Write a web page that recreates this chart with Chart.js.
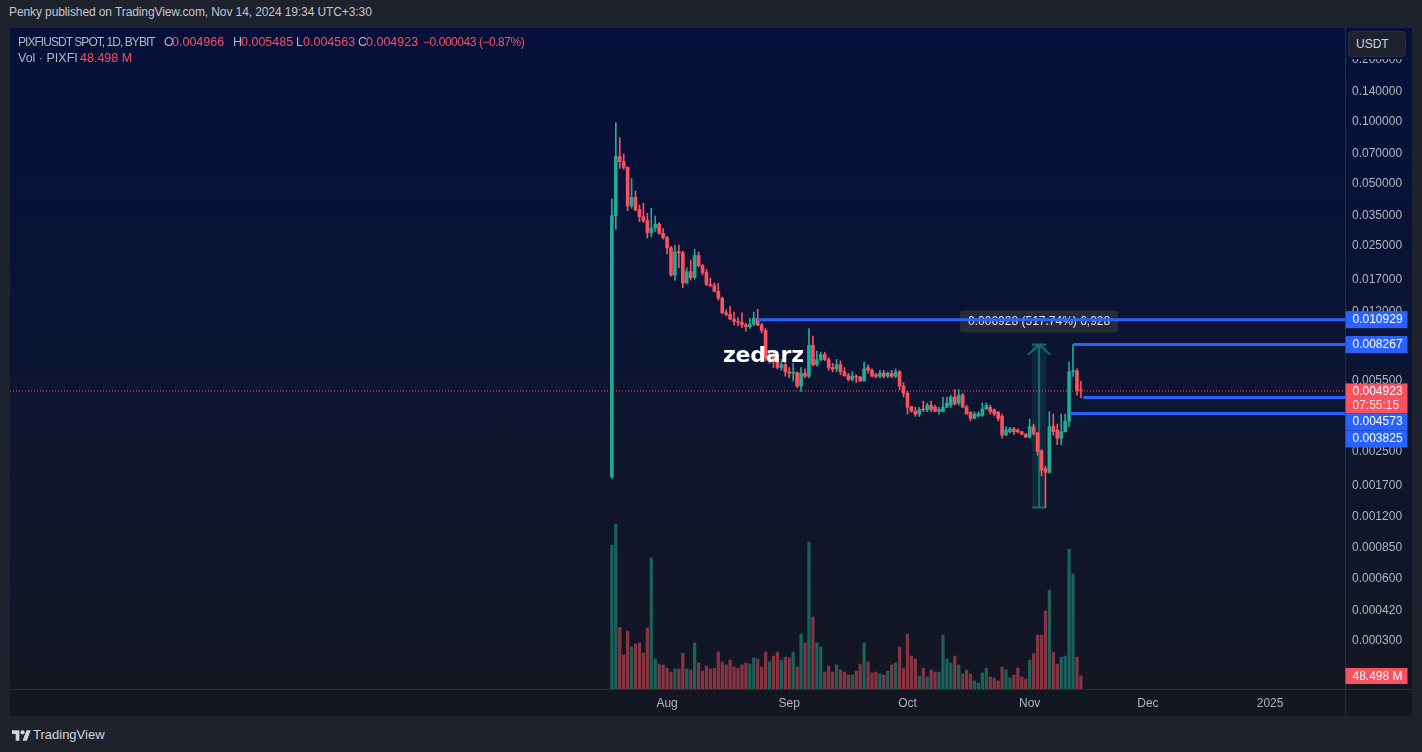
<!DOCTYPE html>
<html>
<head>
<meta charset="utf-8">
<title>PIXFIUSDT 1D</title>
<script src="https://cdn.jsdelivr.net/npm/chart.js@4.4.0/dist/chart.umd.min.js"></script>
<style>
    body {
        margin: 0;
        width: 1422px;
        height: 752px;
        background: #1e222d;
        font-family: "Liberation Sans", Arial, sans-serif;
        overflow: hidden;
        position: relative;
    }
    .header {
        position: absolute; left: 9px; top: 5px;
        color: #c3c6ce; font-size: 12px; letter-spacing: -0.1px;
    }
    .pane {
        position: absolute; left: 10px; top: 28px; width: 1402px; height: 661px;
        background: linear-gradient(to bottom, #06103a 0%, #0b1434 45%, #131722 100%);
    }
    .timebar {
        position: absolute; left: 10px; top: 689px; width: 1402px; height: 27px;
        background: #131722;
    }
    #wrap { position: absolute; left: 10px; top: 28px; width: 1402px; height: 688px; }
    .lg { position: absolute; font-size: 12.5px; white-space: nowrap; }
    .g { color: #b2b5be; }
    .r { color: #f7525f; }
    .axtop {
        position: absolute; left: 1346px; top: 28px; width: 66px; height: 30.5px;
        background: #06103a;
    }
    .usdt {
        position: absolute; left: 1348px; top: 31px; width: 58px; height: 26px;
        background: #1e222d; border: 1px solid #2a2e39; border-radius: 4px; box-sizing: border-box;
        color: #d1d4dc; font-size: 12px; line-height: 24px; padding-left: 7px;
    }
    .mark {
        position: absolute; left: 723px; top: 342px;
        font-family: "DejaVu Sans", sans-serif; font-weight: bold; font-size: 22px;
        color: #ffffff; letter-spacing: -0.2px;
    }
    .tv { position: absolute; left: 12px; top: 727px; color: #d1d4dc; font-size: 13px; }
    .tv svg { position: absolute; left: 0; top: 2px; }
    .tv span { position: absolute; left: 21px; top: 0; white-space: nowrap; }
</style>
</head>
<body>
<div class="header">Penky published on TradingView.com, Nov 14, 2024 19:34 UTC+3:30</div>
<div class="pane"></div>
<div class="timebar"></div>
<div id="wrap"><canvas id="chart"></canvas></div>

<div class="lg g" style="left:18px;top:35px;font-size:12px;letter-spacing:-0.95px;">PIXFIUSDT SPOT, 1D, BYBIT</div>
<div class="lg g" style="left:164px;top:35px;">O</div><div class="lg r" style="left:172px;top:35px;">0.004966</div>
<div class="lg g" style="left:233px;top:35px;">H</div><div class="lg r" style="left:241px;top:35px;">0.005485</div>
<div class="lg g" style="left:296px;top:35px;">L</div><div class="lg r" style="left:303px;top:35px;">0.004563</div>
<div class="lg g" style="left:358px;top:35px;">C</div><div class="lg r" style="left:366px;top:35px;">0.004923</div>
<div class="lg r" style="left:423px;top:35px;font-size:12px;letter-spacing:-0.45px;">−0.000043 (−0.87%)</div>
<div class="lg g" style="left:18px;top:51px;">Vol · PIXFI</div>
<div class="lg r" style="left:80px;top:51px;">48.498 M</div>

<div class="mark">zedarz</div>

<div class="tv">
    <svg width="19" height="12" viewBox="0 0 36 22">
        <path d="M14 22H7V9H0V2h14v20z" fill="#d1d4dc"/>
        <circle cx="20" cy="6" r="4" fill="#d1d4dc"/>
        <path d="M28 22h-8l7.5-20h8z" fill="#d1d4dc"/>
    </svg>
    <span>TradingView</span>
</div>

<script>
// daily candles, Jul 18 2024 (index 0) .. Nov 14 2024 (index 119)
const opens = [
    0.00188, 0.0349, 0.0678, 0.0640, 0.0601, 0.0390, 0.0430, 0.0375, 0.0346, 0.0331,
    0.0289, 0.0305, 0.0318, 0.0287, 0.0274, 0.0244, 0.0180, 0.0233, 0.0231, 0.0165,
    0.0187, 0.0175, 0.0224, 0.0200, 0.0185, 0.0162, 0.0160, 0.0150, 0.0139, 0.0118,
    0.0116, 0.0110, 0.0107, 0.0106, 0.0103, 0.0101, 0.0104, 0.0111, 0.0103, 0.0097,
    0.0071, 0.0074, 0.0068, 0.0064, 0.0066, 0.0061, 0.0060, 0.00605, 0.0052, 0.0060,
    0.0058, 0.0082, 0.0066, 0.0070, 0.0074, 0.0070, 0.0064, 0.0063, 0.0066, 0.0061,
    0.00585, 0.0056, 0.0058, 0.00575, 0.0055, 0.0064, 0.0062, 0.0059, 0.0058, 0.0060,
    0.0058, 0.0060, 0.0058, 0.0061, 0.0052, 0.0048, 0.00413, 0.00392, 0.0038, 0.00403,
    0.00398, 0.0042, 0.0041, 0.00392, 0.0039, 0.0041, 0.0042, 0.0046, 0.0043, 0.0047,
    0.0041, 0.00388, 0.00362, 0.00372, 0.00374, 0.00402, 0.0041, 0.00398, 0.00388, 0.0037,
    0.00302, 0.00312, 0.00322, 0.00318, 0.00312, 0.00303, 0.00294, 0.0033, 0.00308, 0.00252,
    0.00207, 0.00198, 0.00332, 0.00318, 0.0029, 0.00312, 0.0035, 0.0061, 0.00616, 0.004966
];
const highs = [
    0.0422, 0.099, 0.0837, 0.0698, 0.0604, 0.0531, 0.0461, 0.0394, 0.0402, 0.0359,
    0.0380, 0.0349, 0.0324, 0.0303, 0.0278, 0.0248, 0.0252, 0.0252, 0.0235, 0.0195,
    0.0213, 0.0240, 0.0233, 0.0203, 0.0192, 0.0174, 0.0165, 0.0164, 0.0141, 0.0122,
    0.0127, 0.0119, 0.0112, 0.0118, 0.0105, 0.0111, 0.0119, 0.0123, 0.0105, 0.0099,
    0.0077, 0.0076, 0.0070, 0.0070, 0.0068, 0.0064, 0.0067, 0.0061, 0.0064, 0.0063,
    0.0099, 0.0091, 0.0077, 0.0076, 0.0076, 0.00715, 0.0067, 0.0070, 0.0069, 0.0064,
    0.0060, 0.0061, 0.0059, 0.0058, 0.0068, 0.0066, 0.0063, 0.0060, 0.0062, 0.0062,
    0.0061, 0.0062, 0.0063, 0.0062, 0.0054, 0.0049, 0.00415, 0.0041, 0.0041, 0.0044,
    0.0043, 0.0044, 0.0042, 0.0041, 0.0046, 0.0046, 0.0047, 0.0050, 0.0050, 0.0048,
    0.0042, 0.0039, 0.0039, 0.0039, 0.0043, 0.0043, 0.0042, 0.00402, 0.00392, 0.0038,
    0.0033, 0.00328, 0.00328, 0.00322, 0.00314, 0.00306, 0.0036, 0.0034, 0.0031, 0.00255,
    0.00212, 0.0039, 0.0038, 0.0034, 0.0038, 0.0038, 0.0068, 0.008267, 0.0063, 0.005485
];
const lows = [
    0.00185, 0.030, 0.0594, 0.0588, 0.0370, 0.0380, 0.0369, 0.0327, 0.0324, 0.0272,
    0.0276, 0.0293, 0.0284, 0.0269, 0.0228, 0.0178, 0.0170, 0.0195, 0.0156, 0.0163,
    0.0170, 0.0172, 0.0197, 0.0180, 0.0160, 0.0158, 0.0149, 0.0136, 0.0117, 0.0114,
    0.0109, 0.0103, 0.0102, 0.0100, 0.0096, 0.0099, 0.0102, 0.0102, 0.0094, 0.0069,
    0.0067, 0.0064, 0.0063, 0.0062, 0.0058, 0.0057, 0.0055, 0.0051, 0.0049, 0.0057,
    0.0057, 0.0065, 0.0065, 0.0069, 0.0069, 0.0062, 0.0061, 0.0061, 0.0059, 0.0058,
    0.0055, 0.0055, 0.0054, 0.0055, 0.0055, 0.0060, 0.0058, 0.0057, 0.0057, 0.0057,
    0.0057, 0.0057, 0.0057, 0.0050, 0.0046, 0.0038, 0.00388, 0.0037, 0.0037, 0.0039,
    0.0039, 0.0039, 0.0039, 0.0038, 0.0039, 0.0041, 0.0041, 0.0042, 0.0042, 0.0041,
    0.0038, 0.00352, 0.0036, 0.00368, 0.0037, 0.0040, 0.0038, 0.00372, 0.00352, 0.0029,
    0.00298, 0.00308, 0.00302, 0.00308, 0.00302, 0.00292, 0.0029, 0.0030, 0.0024, 0.0019,
    0.001338, 0.00196, 0.0030, 0.0027, 0.0027, 0.0031, 0.0033, 0.0058, 0.0047, 0.004563
];
const closes = [
    0.0349, 0.0678, 0.0640, 0.0601, 0.0390, 0.0430, 0.0373, 0.0346, 0.0331, 0.0289,
    0.0305, 0.0318, 0.0287, 0.0274, 0.0244, 0.0180, 0.0233, 0.0231, 0.0165, 0.0187,
    0.0175, 0.0224, 0.0200, 0.0185, 0.0162, 0.0160, 0.0150, 0.0139, 0.0118, 0.0116,
    0.0110, 0.0107, 0.0106, 0.0103, 0.0101, 0.0104, 0.0111, 0.0103, 0.0097, 0.0071,
    0.0074, 0.0068, 0.0064, 0.0066, 0.0061, 0.0060, 0.00605, 0.0052, 0.0060, 0.0058,
    0.0082, 0.0066, 0.0070, 0.0074, 0.0070, 0.0064, 0.0063, 0.0066, 0.0061, 0.00585,
    0.0056, 0.0058, 0.00575, 0.0055, 0.0063, 0.0062, 0.0058, 0.0058, 0.0060, 0.0058,
    0.0060, 0.0058, 0.0061, 0.0052, 0.0048, 0.0041, 0.00392, 0.0038, 0.0040, 0.00398,
    0.0042, 0.0040, 0.00392, 0.0040, 0.0041, 0.0043, 0.0046, 0.00425, 0.0047, 0.0041,
    0.0038, 0.00362, 0.0038, 0.00382, 0.00402, 0.00418, 0.0039, 0.00381, 0.00362, 0.0030,
    0.00318, 0.00322, 0.00312, 0.00312, 0.00303, 0.00294, 0.0033, 0.00305, 0.0025, 0.00203,
    0.00198, 0.0033, 0.00312, 0.0029, 0.00312, 0.0035, 0.0061, 0.00616, 0.00497, 0.004923
];
// volume in millions of PIXFI
const volumes = [
    537, 615, 230, 127, 216, 157, 168, 172, 134, 228,
    489, 112, 93, 90, 78, 63, 75, 75, 134, 75,
    71, 172, 97, 67, 86, 75, 78, 138, 101, 90,
    108, 82, 78, 90, 97, 93, 116, 112, 82, 138,
    101, 123, 138, 108, 119, 116, 138, 82, 205, 172,
    548, 269, 172, 157, 63, 86, 63, 90, 71, 63,
    52, 52, 67, 93, 172, 101, 60, 63, 56, 52,
    67, 90, 97, 157, 78, 205, 123, 112, 48, 78,
    45, 71, 63, 63, 201, 112, 97, 123, 90, 56,
    71, 56, 30, 22, 60, 78, 45, 41, 30, 82,
    71, 41, 52, 78, 45, 37, 108, 131, 201, 201,
    291, 369, 138, 93, 119, 123, 522, 429, 119, 48.498
];

const monthTicks = [14, 45, 75, 106, 136, 167];
const monthLabels = ['Aug', 'Sep', 'Oct', 'Nov', 'Dec', '2025'];
const priceTicks = [0.2, 0.14, 0.1, 0.07, 0.05, 0.035, 0.025, 0.017, 0.012, 0.0085,
    0.0055, 0.004, 0.0025, 0.0017, 0.0012, 0.00085, 0.0006, 0.00042, 0.0003];

// horizontal rays drawn on the chart
const rayLevels = [0.010929, 0.008267, 0.004573, 0.003825];
const rayStarts = [36.8, 117.1, 119.6, 116.3];
const lastPrice = 0.004923;
const lastVolume = 48.498;
const countdown = '07:55:15';

// price range measure
const measureLow = 0.001338;
const measureHigh = 0.008267;
const measureFrom = 106.6;
const measureTo = 110.2;
const measureText = '0.006928 (517.74%) 6,928';

const xMin = -152.7, xMax = 186.0;
const UP = '#22ab94', DOWN = '#f7525f', BLUE = '#2962ff';
const isUp = closes.map((c, i) => c >= opens[i]);

const overlay = {
    id: 'overlay',
    beforeDatasetsDraw(chart) {
        const ctx = chart.ctx, x = chart.scales.x, y = chart.scales.y;
        const x1 = x.getPixelForValue(measureFrom), x2 = x.getPixelForValue(measureTo);
        const yT = y.getPixelForValue(measureHigh), yB = y.getPixelForValue(measureLow);
        const xc = (x1 + x2) / 2;
        ctx.save();
        ctx.fillStyle = 'rgba(34,171,148,0.13)';
        ctx.fillRect(x1, yT, x2 - x1, yB - yT);
        ctx.strokeStyle = 'rgba(34,171,148,0.55)';
        ctx.lineWidth = 2;
        ctx.beginPath();
        ctx.moveTo(xc, yB); ctx.lineTo(xc, yT);
        ctx.moveTo(x1, yT); ctx.lineTo(x2, yT);
        ctx.moveTo(x1, yB); ctx.lineTo(x2, yB);
        ctx.moveTo(xc - 11, yT + 10); ctx.lineTo(xc, yT); ctx.lineTo(xc + 11, yT + 10);
        ctx.stroke();
        // label
        ctx.font = '12px "Liberation Sans", Arial, sans-serif';
        const w = ctx.measureText(measureText).width + 16;
        ctx.fillStyle = 'rgba(42,46,57,0.92)';
        ctx.beginPath();
        ctx.roundRect(xc - w / 2, yT - 34, w, 22, 3);
        ctx.fill();
        ctx.fillStyle = '#e0e3eb';
        ctx.textAlign = 'center';
        ctx.textBaseline = 'middle';
        ctx.fillText(measureText, xc, yT - 23);
        ctx.restore();
    },
    afterDraw(chart) {
        const ctx = chart.ctx, area = chart.chartArea;
        const y = chart.scales.y, v = chart.scales.v;
        ctx.save();
        ctx.strokeStyle = '#2a2e39';
        ctx.lineWidth = 1;
        ctx.beginPath();
        ctx.moveTo(Math.round(area.right) + 0.5, 0);
        ctx.lineTo(Math.round(area.right) + 0.5, chart.height);
        ctx.moveTo(0, Math.round(area.bottom) + 0.5);
        ctx.lineTo(chart.width, Math.round(area.bottom) + 0.5);
        ctx.stroke();

        const left = area.right + 0.5, bw = 62;
        ctx.font = '12px "Liberation Sans", Arial, sans-serif';
        ctx.textBaseline = 'middle';
        ctx.textAlign = 'left';
        function box(top, h, color, lines) {
            ctx.fillStyle = color;
            ctx.fillRect(left, top, bw, h);
            lines.forEach((t, k) => {
                ctx.fillStyle = k === 0 ? '#ffffff' : 'rgba(255,255,255,0.8)';
                ctx.fillText(t, left + 7, top + 8.5 + k * 14);
            });
        }
        box(y.getPixelForValue(rayLevels[0]) - 8.5, 17, BLUE, [rayLevels[0].toFixed(6)]);
        box(y.getPixelForValue(rayLevels[1]) - 8.5, 17, BLUE, [rayLevels[1].toFixed(6)]);
        const redTop = y.getPixelForValue(lastPrice) - 7.5;
        box(redTop, 30, DOWN, [lastPrice.toFixed(6), countdown]);
        box(redTop + 30, 17, BLUE, [rayLevels[2].toFixed(6)]);
        box(redTop + 47, 17, BLUE, [rayLevels[3].toFixed(6)]);
        const vy = v.getPixelForValue(lastVolume);
        box(vy - 8, 16, DOWN, [lastVolume.toFixed(3) + ' M']);
        ctx.restore();
    }
};

const datasets = [];
rayLevels.forEach((lvl, k) => {
    datasets.push({
        type: 'line',
        data: [{ x: rayStarts[k], y: lvl }, { x: xMax, y: lvl }],
        borderColor: BLUE,
        borderWidth: 3,
        pointRadius: 0,
        yAxisID: 'y',
        order: 1
    });
});
datasets.push({
    type: 'bar',
    data: opens.map((o, i) => ({ x: i, y: [Math.min(o, closes[i]), Math.max(o, closes[i])] })),
    backgroundColor: isUp.map(u => u ? UP : DOWN),
    barThickness: 3,
    minBarLength: 1,
    grouped: false,
    yAxisID: 'y',
    order: 2
});
datasets.push({
    type: 'bar',
    data: lows.map((l, i) => ({ x: i, y: [l, highs[i]] })),
    backgroundColor: isUp.map(u => u ? UP : DOWN),
    barThickness: 1,
    grouped: false,
    yAxisID: 'y',
    order: 3
});
datasets.push({
    type: 'line',
    data: [{ x: xMin, y: lastPrice }, { x: xMax, y: lastPrice }],
    borderColor: DOWN,
    borderWidth: 1,
    borderDash: [1, 2],
    pointRadius: 0,
    yAxisID: 'y',
    order: 4
});
datasets.push({
    type: 'bar',
    data: volumes.map((vol, i) => ({ x: i, y: vol })),
    backgroundColor: isUp.map(u => u ? 'rgba(34,171,148,0.5)' : 'rgba(247,82,95,0.5)'),
    barThickness: 2.6,
    grouped: false,
    yAxisID: 'v',
    order: 5
});

new Chart(document.getElementById('chart'), {
    type: 'bar',
    data: { datasets: datasets },
    options: {
        responsive: true,
        maintainAspectRatio: false,
        animation: false,
        events: [],
        layout: { padding: 0 },
        plugins: { legend: { display: false }, tooltip: { enabled: false } },
        scales: {
            x: {
                type: 'linear',
                min: xMin,
                max: xMax,
                offset: false,
                grid: { display: false, drawTicks: false },
                border: { display: false },
                afterBuildTicks: s => { s.ticks = monthTicks.map(t => ({ value: t })); },
                afterFit: s => { s.height = 27; s.paddingLeft = 0; s.paddingRight = 0; },
                ticks: {
                    autoSkip: false,
                    maxRotation: 0,
                    padding: 7,
                    color: '#b2b5be',
                    font: { family: '"Liberation Sans", Arial, sans-serif', size: 12 },
                    callback: val => monthLabels[monthTicks.indexOf(val)]
                }
            },
            y: {
                type: 'logarithmic',
                position: 'right',
                min: 0.0001754,
                max: 0.2856,
                grid: { display: false, drawTicks: false },
                border: { display: false },
                afterBuildTicks: s => { s.ticks = priceTicks.map(t => ({ value: t })); },
                afterFit: s => { s.width = 67; s.paddingTop = 0; s.paddingBottom = 0; },
                ticks: {
                    autoSkip: false,
                    padding: 7,
                    color: '#b2b5be',
                    font: { family: '"Liberation Sans", Arial, sans-serif', size: 12 },
                    callback: val => Number(val).toFixed(6)
                }
            },
            v: {
                type: 'linear',
                display: false,
                min: 0,
                max: 2466
            }
        }
    },
    plugins: [overlay]
});
</script>
<div class="axtop"></div>
<div class="usdt">USDT</div>
</body>
</html>
